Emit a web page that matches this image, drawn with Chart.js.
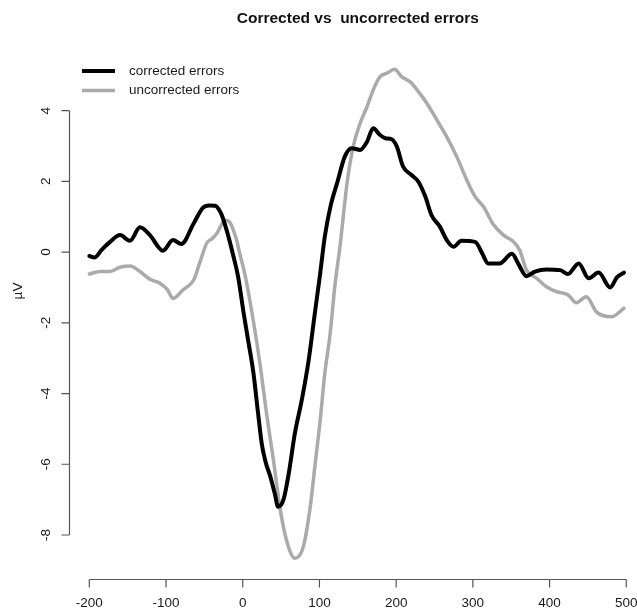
<!DOCTYPE html>
<html>
<head>
<meta charset="utf-8">
<script src="https://cdn.jsdelivr.net/npm/chart.js@4/dist/chart.umd.min.js"></script>
<style>
  html, body { margin: 0; padding: 0; background: #ffffff; }
  #wrap { width: 637px; height: 613px; }
</style>
</head>
<body>
<div id="wrap"><canvas id="erp" width="637" height="613"></canvas></div>
<script>
// Grand-average ERP waveforms (time in ms, amplitude in µV)
const chartTitle = 'Corrected vs  uncorrected errors';
const yAxisTitle = 'µV';
const seriesNames = ['corrected errors', 'uncorrected errors'];

const correctedTimes = [-200, -193, -184, -173, -160, -147, -134, -121, -104, -91, -80, -64, -52, -44, -36, -28, -21, -12, -6, 1, 7, 14, 20, 25, 30, 36, 42, 46, 53, 60, 68, 77, 86, 94, 101, 107, 115, 123, 133, 142, 153, 162, 170, 179, 186, 194, 201, 209, 220, 229, 238, 246, 257, 266, 275, 285, 303, 312, 320, 335, 351, 359, 370, 381, 396, 414, 424, 438, 451, 464, 479, 488, 497];
const correctedValues = [-0.11, -0.15, 0.06, 0.29, 0.48, 0.32, 0.70, 0.48, 0.04, 0.34, 0.23, 0.81, 1.25, 1.32, 1.31, 1.08, 0.62, -0.13, -0.70, -1.70, -2.49, -3.43, -4.56, -5.45, -5.95, -6.35, -6.85, -7.20, -7.01, -6.26, -5.12, -4.18, -3.05, -1.73, -0.60, 0.44, 1.35, 1.95, 2.70, 2.94, 2.89, 3.12, 3.50, 3.31, 3.22, 3.19, 2.98, 2.42, 2.18, 1.99, 1.57, 1.05, 0.72, 0.34, 0.15, 0.32, 0.29, -0.03, -0.32, -0.32, -0.05, -0.32, -0.68, -0.55, -0.49, -0.51, -0.62, -0.32, -0.74, -0.58, -1.00, -0.71, -0.58];

const uncorrectedTimes = [-200, -186, -173, -160, -147, -134, -121, -108, -98, -91, -78, -64, -56, -47, -40, -34, -23, -17, -14, -8, -4, 4, 14, 23, 31, 40, 49, 57, 68, 79, 88, 94, 101, 107, 114, 120, 127, 136, 144, 153, 162, 170, 179, 188, 198, 207, 218, 229, 240, 253, 266, 279, 292, 303, 314, 327, 340, 353, 361, 370, 383, 396, 409, 424, 435, 448, 461, 481, 497];
const uncorrectedValues = [-0.62, -0.55, -0.55, -0.43, -0.39, -0.55, -0.77, -0.88, -1.07, -1.31, -1.07, -0.79, -0.30, 0.25, 0.38, 0.52, 0.90, 0.85, 0.72, 0.34, -0.03, -0.75, -1.97, -3.24, -4.56, -5.88, -7.29, -8.14, -8.66, -8.33, -7.20, -6.07, -4.75, -3.43, -2.30, -0.98, 0.20, 1.95, 2.98, 3.64, 4.11, 4.58, 4.96, 5.06, 5.17, 4.96, 4.82, 4.54, 4.21, 3.74, 3.26, 2.70, 2.04, 1.57, 1.28, 0.77, 0.48, 0.29, 0.06, -0.51, -0.74, -0.98, -1.12, -1.21, -1.43, -1.26, -1.69, -1.83, -1.59];

const xTickValues = [-200, -100, 0, 100, 200, 300, 400, 500];
const yTickValues = [-8, -6, -4, -2, 0, 2, 4];

const toPoints = (ts, vs) => ts.map((t, i) => ({ x: t, y: vs[i] }));

const FONT = "'Liberation Sans', Arial, Helvetica, sans-serif";

// Base-graphics style axes, title and legend drawn on top of the line plot
const classicFrame = {
  id: 'classicFrame',
  afterDraw(chart) {
    const ctx = chart.ctx;
    const xs = chart.scales.x, ys = chart.scales.y;
    const area = chart.chartArea;
    ctx.save();

    // x axis
    const xa = xs.getPixelForValue(xTickValues[0]);
    const xb = xs.getPixelForValue(xTickValues[xTickValues.length - 1]);
    const yBase = Math.round(area.bottom) + 0.5;
    ctx.strokeStyle = '#555555';
    ctx.lineWidth = 1.2;
    ctx.beginPath();
    ctx.moveTo(xa, yBase); ctx.lineTo(xb, yBase);
    xTickValues.forEach(v => {
      const px = xs.getPixelForValue(v);
      ctx.moveTo(px, yBase); ctx.lineTo(px, yBase + 8);
    });
    ctx.stroke();
    ctx.fillStyle = '#1a1a1a';
    ctx.font = '13.5px ' + FONT;
    ctx.textAlign = 'center';
    ctx.textBaseline = 'middle';
    xTickValues.forEach(v => {
      ctx.fillText(String(v), xs.getPixelForValue(v), yBase + 24);
    });

    // y axis
    const ya = ys.getPixelForValue(yTickValues[0]);
    const yb = ys.getPixelForValue(yTickValues[yTickValues.length - 1]);
    const xBase = Math.round(area.left) + 0.5;
    ctx.beginPath();
    ctx.moveTo(xBase, ya); ctx.lineTo(xBase, yb);
    yTickValues.forEach(v => {
      const py = ys.getPixelForValue(v);
      ctx.moveTo(xBase, py); ctx.lineTo(xBase - 8, py);
    });
    ctx.stroke();
    yTickValues.forEach(v => {
      ctx.save();
      ctx.translate(xBase - 23, ys.getPixelForValue(v));
      ctx.rotate(-Math.PI / 2);
      ctx.fillText(String(v), 0, 0);
      ctx.restore();
    });

    // y axis title
    ctx.save();
    ctx.translate(18, ys.getPixelForValue(-1.1));
    ctx.rotate(-Math.PI / 2);
    ctx.fillText(yAxisTitle, 0, 0);
    ctx.restore();

    // main title
    ctx.fillStyle = '#111111';
    ctx.font = 'bold 15.5px ' + FONT;
    ctx.fillText(chartTitle, xs.getPixelForValue((xTickValues[0] + xTickValues[xTickValues.length - 1]) / 2), 19);

    // legend
    ctx.font = '13.5px ' + FONT;
    ctx.textAlign = 'left';
    chart.data.datasets.forEach((ds, i) => {
      const ly = 71 + i * 19.5;
      ctx.strokeStyle = ds.borderColor;
      ctx.lineWidth = ds.borderWidth;
      ctx.lineCap = 'butt';
      ctx.beginPath();
      ctx.moveTo(82, ly); ctx.lineTo(115, ly);
      ctx.stroke();
      ctx.fillStyle = '#1a1a1a';
      ctx.fillText(ds.label, 129, ly);
    });

    ctx.restore();
  }
};

new Chart(document.getElementById('erp'), {
  type: 'line',
  data: {
    datasets: [
      {
        label: seriesNames[0],
        data: toPoints(correctedTimes, correctedValues),
        borderColor: '#000000',
        borderWidth: 4,
        pointRadius: 0,
        cubicInterpolationMode: 'monotone',
        borderJoinStyle: 'round',
        borderCapStyle: 'round',
        fill: false,
        order: 0
      },
      {
        label: seriesNames[1],
        data: toPoints(uncorrectedTimes, uncorrectedValues),
        borderColor: '#aaaaaa',
        borderWidth: 3.5,
        pointRadius: 0,
        cubicInterpolationMode: 'monotone',
        borderJoinStyle: 'round',
        borderCapStyle: 'round',
        fill: false,
        order: 1
      }
    ]
  },
  options: {
    responsive: false,
    animation: false,
    events: [],
    layout: { padding: { left: 69, right: 1, top: 50, bottom: 34 } },
    plugins: {
      legend: { display: false },
      title: { display: false },
      tooltip: { enabled: false }
    },
    scales: {
      x: { type: 'linear', display: false, min: -226.5, max: 512.7 },
      y: { type: 'linear', display: false, min: -9.245, max: 5.715 }
    }
  },
  plugins: [classicFrame]
});
</script>
</body>
</html>
